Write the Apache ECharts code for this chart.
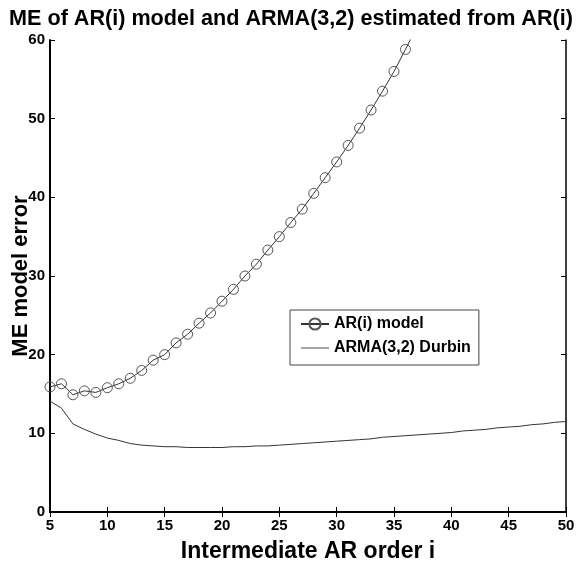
<!DOCTYPE html>
<html>
<head>
<meta charset="UTF-8">
<title>ME model error</title>
<script src="https://cdn.jsdelivr.net/npm/echarts@6/dist/echarts.min.js"></script>
<style>
	body { margin: 0; background: #fff; }
	#main { width: 582px; height: 566px; }
</style>
</head>
<body>
<div id="main"></div>
<script type="text/javascript">
	// AR order i and model errors
	var arOrders = [5,6,7,8,9,10,11,12,13,14,15,16,17,18,19,20,21,22,23,24,25,26,27,28,29,30,31,32,33,34,35,36,37];
	var arModel = [15.9,16.3,14.9,15.4,15.2,15.8,16.3,17.0,18.0,19.3,20.0,21.5,22.6,24.0,25.3,26.8,28.3,30.0,31.5,33.3,35.0,36.8,38.5,40.5,42.5,44.5,46.6,48.8,51.1,53.5,56.0,58.8,61.7];

	var durbinOrders = [5,6,7,8,9,10,11,12,13,14,15,16,17,18,19,20,21,22,23,24,25,26,27,28,29,30,31,32,33,34,35,36,37,38,39,40,41,42,43,44,45,46,47,48,49,50];
	var durbin = [14.1,13.2,11.2,10.5,9.9,9.4,9.1,8.7,8.5,8.4,8.3,8.3,8.2,8.2,8.2,8.2,8.3,8.3,8.4,8.4,8.5,8.6,8.7,8.8,8.9,9.0,9.1,9.2,9.3,9.5,9.6,9.7,9.8,9.9,10.0,10.1,10.3,10.4,10.5,10.7,10.8,10.9,11.1,11.2,11.4,11.5];

	var xTicks = [5,10,15,20,25,30,35,40,45,50];
	var yTicks = [0,10,20,30,40,50,60];

	function pairs(xs, ys) {
		var out = [];
		for (var i = 0; i < xs.length; i++) out.push([xs[i], ys[i]]);
		return out;
	}

	var font = 'Liberation Sans, Arial, sans-serif';
	var myChart = echarts.init(document.getElementById('main'));

	var tickStyle = { show: true, inside: true, length: 5, lineStyle: { color: '#000' } };

	myChart.setOption({
		animation: false,
		backgroundColor: '#fff',
		title: {
			text: 'ME of AR(i) model and ARMA(3,2) estimated from AR(i)',
			left: 'center',
			top: 3,
			textStyle: { fontFamily: font, fontSize: 21.6, fontWeight: 'bold', color: '#000' }
		},
		legend: {
			orient: 'vertical',
			left: 290,
			top: 310,
			itemWidth: 28,
			itemHeight: 14,
			itemGap: 8,
			padding: [6, 8, 9, 10],
			borderColor: '#444',
			borderWidth: 1,
			textStyle: { fontFamily: font, fontSize: 16, fontWeight: 'bold', color: '#000' },
			data: [
				{ name: 'AR(i) model' },
				{ name: 'ARMA(3,2) Durbin', icon: 'path://M0,0 L32,0 L32,1 L0,1 Z' }
			]
		},
		grid: { left: 50, right: 16, top: 40, bottom: 54, outerBoundsMode: 'none' },
		xAxis: [{
			type: 'value', min: xTicks[0], max: xTicks[xTicks.length - 1], interval: 5,
			name: 'Intermediate AR order i', nameLocation: 'middle', nameGap: 28,
			nameMoveOverlap: false,
			nameTextStyle: { fontFamily: font, fontSize: 23, fontWeight: 'bold', color: '#000' },
			axisLine: { lineStyle: { color: '#000', width: 2 } },
			axisTick: tickStyle,
			axisLabel: { fontFamily: font, fontSize: 15, fontWeight: 'bold', color: '#000', margin: 6 },
			splitLine: { show: false }
		}, {
			type: 'value', position: 'top', min: xTicks[0], max: xTicks[xTicks.length - 1], interval: 5,
			axisLine: { lineStyle: { color: '#000', width: 1.5 } },
			axisTick: tickStyle,
			axisLabel: { show: false },
			splitLine: { show: false }
		}],
		yAxis: [{
			type: 'value', min: yTicks[0], max: yTicks[yTicks.length - 1], interval: 10,
			name: 'ME model error', nameLocation: 'middle', nameGap: 18,
			nameMoveOverlap: false,
			nameTextStyle: { fontFamily: font, fontSize: 22, fontWeight: 'bold', color: '#000' },
			axisLine: { show: true, lineStyle: { color: '#000', width: 2 } },
			axisTick: tickStyle,
			axisLabel: { fontFamily: font, fontSize: 15, fontWeight: 'bold', color: '#000', margin: 5 },
			splitLine: { show: false }
		}, {
			type: 'value', position: 'right', min: yTicks[0], max: yTicks[yTicks.length - 1], interval: 10,
			axisLine: { show: true, lineStyle: { color: '#000', width: 1.5 } },
			axisTick: tickStyle,
			axisLabel: { show: false },
			splitLine: { show: false }
		}],
		series: [
			{
				name: 'AR(i) model',
				type: 'line',
				data: pairs(arOrders, arModel),
				symbol: 'circle',
				symbolSize: 10,
				clip: true,
				lineStyle: { color: '#333', width: 1 },
				itemStyle: { color: 'rgba(255,255,255,0)', borderColor: '#555', borderWidth: 1 }
			},
			{
				name: 'ARMA(3,2) Durbin',
				type: 'line',
				data: pairs(durbinOrders, durbin),
				symbol: 'none',
				lineStyle: { color: '#333', width: 1 },
				itemStyle: { color: '#333' }
			}
		]
	});
</script>
</body>
</html>
